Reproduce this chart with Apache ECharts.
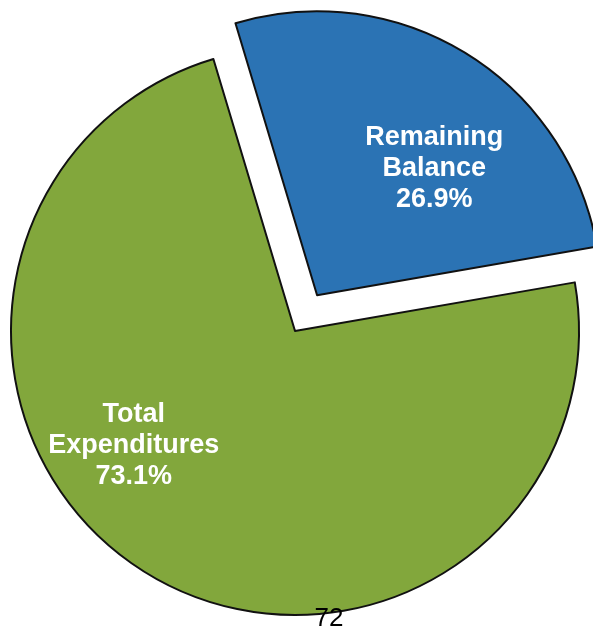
<!DOCTYPE html>
<html>
<head>
<meta charset="utf-8">
<script src="https://cdn.jsdelivr.net/npm/echarts@6/dist/echarts.min.js"></script>
<style>html,body{margin:0;padding:0;background:#fff;}#chart{width:593px;height:629px;}</style>
</head>
<body>
<div id="chart"></div>
<script>
var categories = ['Remaining\nBalance', 'Total\nExpenditures'];
var values = [26.9, 73.1];
var colors = ['#2b73b4', '#82a73c'];
var pageNumber = '72';

var chart = echarts.init(document.getElementById('chart'), null, {renderer: 'canvas'});
var labelShift = [[41, -3], [-85, -9]];
chart.setOption({
  animation: false,
  backgroundColor: '#ffffff',
  series: [{
    type: 'pie',
    center: [295, 331],
    radius: 284,
    startAngle: 106.7,
    clockwise: true,
    selectedMode: 'single',
    selectedOffset: 42,
    avoidLabelOverlap: false,
    itemStyle: {borderColor: '#111', borderWidth: 2},
    label: {
      show: true,
      position: 'inside',
      color: '#fff',
      fontFamily: '"Liberation Sans", Arial, sans-serif',
      fontWeight: 'bold',
      fontSize: 27,
      lineHeight: 31,
      align: 'center',
      formatter: function (p) { return p.name + '\n' + p.value.toFixed(1) + '%'; }
    },
    labelLine: {show: false},
    labelLayout: function (p) {
      return {dx: labelShift[p.dataIndex][0], dy: labelShift[p.dataIndex][1]};
    },
    emphasis: {disabled: true},
    data: categories.map(function (c, i) {
      return {name: c, value: values[i], selected: i === 0, itemStyle: {color: colors[i]}};
    })
  }],
  graphic: [{
    type: 'text',
    x: 329,
    y: 619,
    z: 100,
    style: {
      text: pageNumber,
      fill: '#000',
      font: '26px "Liberation Sans", Arial, sans-serif',
      textAlign: 'center',
      textVerticalAlign: 'middle'
    }
  }]
});
</script>
</body>
</html>
